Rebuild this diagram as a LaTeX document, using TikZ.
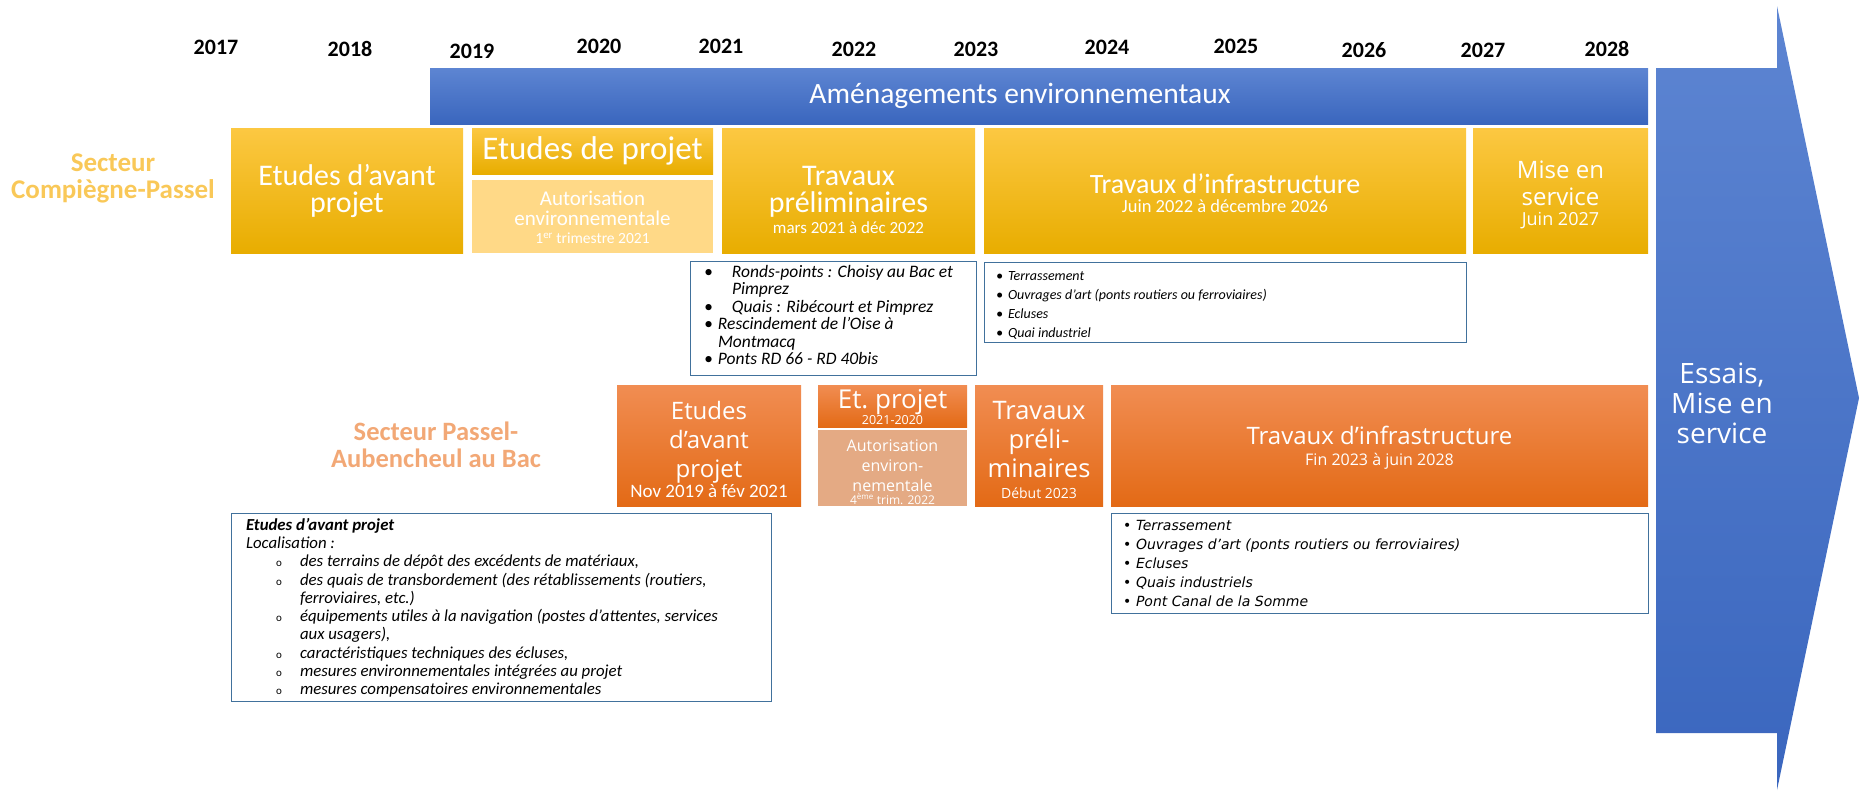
\documentclass[tikz,border=0pt]{standalone}
\usepackage{fontspec}
\setmainfont{Carlito}
\newfontfamily\opensans{Open Sans}
\newfontfamily\dejavu{DejaVu Sans}
\usetikzlibrary{positioning}

\definecolor{yeltop}{RGB}{252,200,66}
\definecolor{yelmid}{RGB}{255,192,0}
\definecolor{yelbot}{RGB}{232,173,0}
\definecolor{yelpale}{RGB}{255,217,135}
\definecolor{oratop}{RGB}{241,141,82}
\definecolor{oramid}{RGB}{237,125,49}
\definecolor{orabot}{RGB}{227,106,22}
\definecolor{orapale}{RGB}{228,170,132}
\definecolor{bluetop}{RGB}{93,133,210}
\definecolor{bluebot}{RGB}{58,102,190}
\definecolor{listblue}{RGB}{65,113,156}
\definecolor{secyel}{RGB}{249,200,88}
\definecolor{secora}{RGB}{242,168,118}

% list entries
\newcommand{\bitem}[3][0pt]{\par\hangindent=#2\hangafter=1\noindent\makebox[#2][l]{\hspace*{#1}\textbullet}#3}
\newcommand{\oitem}[1]{\par\hangindent=54pt\hangafter=1\noindent\hspace*{30pt}\makebox[24pt][l]{\upshape\fontsize{11}{11}\selectfont o}#1}

\tikzset{
    x=1pt, y=-1pt,
    every node/.style={inner sep=0pt, outer sep=0pt},
    yelbox/.style={rectangle, top color=yeltop, middle color=yelmid, bottom color=yelbot},
    yelpalebox/.style={rectangle, fill=yelpale},
    orabox/.style={rectangle, top color=oratop, middle color=oramid, bottom color=orabot},
    orapalebox/.style={rectangle, fill=orapale},
    boxtxt/.style={text=white, align=center, font=\fontsize{30}{27}\selectfont},
    oratxt/.style={text=white, align=center, font=\opensans\fontsize{24}{29}\selectfont},
    listbox/.style={rectangle, draw=listblue, line width=1pt, fill=white, inner xsep=12pt, inner ysep=5pt, font=\itshape\fontsize{14}{19}\selectfont},
    year/.style={font=\bfseries\fontsize{22}{24}\selectfont},
    sector/.style={align=center, font=\bfseries\fontsize{27}{27}\selectfont}
}

\begin{document}
\begin{tikzpicture}
    \useasboundingbox (0,0) rectangle (1860,790);

    % years
    \node[year] (y17) at (216,47) {2017};
    \node[year] (y18) at (350,49) {2018};
    \node[year] (y19) at (472,51) {2019};
    \node[year] (y20) at (599,46) {2020};
    \node[year] (y21) at (721,46) {2021};
    \node[year] (y22) at (854,49) {2022};
    \node[year] (y23) at (976,49) {2023};
    \node[year] (y24) at (1107,47) {2024};
    \node[year] (y25) at (1236,46) {2025};
    \node[year] (y26) at (1364,50) {2026};
    \node[year] (y27) at (1483,50) {2027};
    \node[year] (y28) at (1607,49) {2028};

    % arrow on the right
    \shade[top color=bluetop, bottom color=bluebot] (1656,68) -- (1777,68) -- (1777,6) -- (1859,398)
        -- (1777,790) -- (1777,733) -- (1656,733) -- cycle;
    \node[text=white, align=center, font=\opensans\fontsize{28}{30}\selectfont] (essais) at (1722,403) {Essais,\\Mise en\\service};

    \node[rectangle, top color=bluetop, bottom color=bluebot, minimum width=1218, minimum height=56,
        text=white, font=\fontsize{29.5}{30}\selectfont] (amen) at (1039,96) {\hspace*{-38pt}Aménagements environnementaux};

    % Secteur Compiegne-Passel
    \node[sector, text=secyel] (sec1) at (113,178) {Secteur\\Compiègne-Passel};
    \node[yelbox, minimum width=232, minimum height=125] (avp1) at (347,190.5) {};
    \node[boxtxt] (avp1-t) at (avp1) {Etudes d’avant\\projet};
    \node[yelbox, minimum width=241, minimum height=46] (pro1) at (592.5,151) {};
    \node[boxtxt, font=\fontsize{33}{33}\selectfont] (pro1-t) at (pro1) {Etudes de projet};
    \node[yelpalebox, minimum width=241, minimum height=73] (aut1) at (592.5,216.5) {};
    \node[boxtxt, font=\fontsize{21}{20}\selectfont] (aut1-t) at ([yshift=-1pt]aut1.center)
        {Autorisation\\environnementale\\[-2pt]{\fontsize{15.5}{15.5}\selectfont 1\textsuperscript{er} trimestre 2021}};
    \node[yelbox, minimum width=253, minimum height=125] (pre1) at (848.5,190.5) {};
    \node[boxtxt] (pre1-t) at ([yshift=-9pt]pre1.center)
        {Travaux\\préliminaires\\[-6pt]{\fontsize{17}{17}\selectfont mars 2021 à déc 2022}};
    \node[yelbox, minimum width=482, minimum height=125] (inf1) at (1225,190.5) {};
    \node[boxtxt, font=\fontsize{28}{28}\selectfont] (inf1-t) at ([yshift=-3pt]inf1.center)
        {Travaux d’infrastructure\\[-9pt]{\fontsize{18.5}{18.5}\selectfont Juin 2022 à décembre 2026}};
    \node[yelbox, minimum width=175, minimum height=125] (mes1) at (1560.5,190.5) {};
    \node[boxtxt, font=\opensans\fontsize{24}{27}\selectfont] (mes1-t) at ([yshift=-4pt]mes1.center)
        {Mise en\\service\\[-7pt]{\fontsize{18}{18}\selectfont Juin 2027}};

    \node[listbox, anchor=north west, inner ysep=4pt, font=\itshape\fontsize{17.5}{17.5}\selectfont] (lst1) at (690,261)
        {\parbox[c][106pt][t]{262pt}{\raggedright
        \bitem[2pt]{30pt}{Ronds-points : Choisy au Bac et\newline Pimprez}
        \bitem[2pt]{30pt}{Quais : Ribécourt et Pimprez}
        \bitem[2pt]{16pt}{Rescindement de l’Oise à\newline Montmacq}
        \bitem[2pt]{16pt}{Ponts RD 66 - RD 40bis}}};
    \node[listbox, anchor=north west, inner ysep=10pt] (lst2) at (984,262) {\parbox[c][60pt][t]{458pt}{\raggedright
        \bitem{12pt}{Terrassement}
        \bitem{12pt}{Ouvrages d’art (ponts routiers ou ferroviaires)}
        \bitem{12pt}{Ecluses}
        \bitem{12pt}{Quai industriel}}};

    % Secteur Passel-Aubencheul au Bac
    \node[sector, text=secora, font=\bfseries\fontsize{26.5}{27}\selectfont] (sec2) at (436,445) {Secteur Passel-\\Aubencheul au Bac};
    \node[orabox, minimum width=184, minimum height=121] (avp2) at (709,445.5) {};
    \node[oratxt] (avp2-t) at ([yshift=-4pt]avp2.center)
        {Etudes\\d’avant\\projet\\[-9pt]{\normalfont\fontsize{19}{19}\selectfont Nov 2019 à fév 2021}};
    \node[orabox, minimum width=149, minimum height=42] (pro2) at (892.5,406) {};
    \node[oratxt, font=\opensans\fontsize{26}{26}\selectfont] (pro2-t) at ([yshift=-1pt]pro2.center)
        {Et.\ projet\\[-10pt]{\fontsize{12.5}{12.5}\selectfont 2021-2020}};
    \node[orapalebox, minimum width=149, minimum height=76] (aut2) at (892.5,468) {};
    \node[oratxt, font=\opensans\fontsize{16}{20}\selectfont] (aut2-t) at ([yshift=-4pt]aut2.center)
        {Autorisation\\environ-\\nementale\\[-7pt]{\fontsize{12}{12}\selectfont 4\textsuperscript{ème} trim. 2022}};
    \node[orabox, minimum width=128, minimum height=121] (pre2) at (1039,445.5) {};
    \node[oratxt, font=\opensans\fontsize{25.5}{29}\selectfont] (pre2-t) at ([yshift=-4pt]pre2.center)
        {Travaux\\préli-\\minaires\\[-8pt]{\fontsize{14}{14}\selectfont Début 2023}};
    \node[orabox, minimum width=537, minimum height=121] (inf2) at (1379.5,445.5) {};
    \node[oratxt, font=\opensans\fontsize{24}{24}\selectfont] (inf2-t) at ([yshift=-2pt]inf2.center)
        {Travaux d’infrastructure\\[-3pt]{\fontsize{16}{16}\selectfont Fin 2023 à juin 2028}};

    \node[listbox, anchor=north west, inner xsep=15pt, font=\itshape\fontsize{16.8}{18.3}\selectfont] (lst3) at (231,513)
        {\parbox[c][178pt][t]{510pt}{\raggedright
        \noindent{\bfseries Etudes d’avant projet}\\
        Localisation :
        \oitem{des terrains de dépôt des excédents de matériaux,}
        \oitem{des quais de transbordement (des rétablissements (routiers,\newline ferroviaires, etc.)}
        \oitem{équipements utiles à la navigation (postes d’attentes, services\newline aux usagers),}
        \oitem{caractéristiques techniques des écluses,}
        \oitem{mesures environnementales intégrées au projet}
        \oitem{mesures compensatoires environnementales}}};
    \node[listbox, anchor=north west, inner ysep=7pt, font=\dejavu\itshape\fontsize{14}{19}\selectfont] (lst4) at (1111,513)
        {\parbox[c][86pt][t]{513pt}{\raggedright
        \bitem{13pt}{Terrassement}
        \bitem{13pt}{Ouvrages d’art (ponts routiers ou ferroviaires)}
        \bitem{13pt}{Ecluses}
        \bitem{13pt}{Quais industriels}
        \bitem{13pt}{Pont Canal de la Somme}}};
\end{tikzpicture}
\end{document}
